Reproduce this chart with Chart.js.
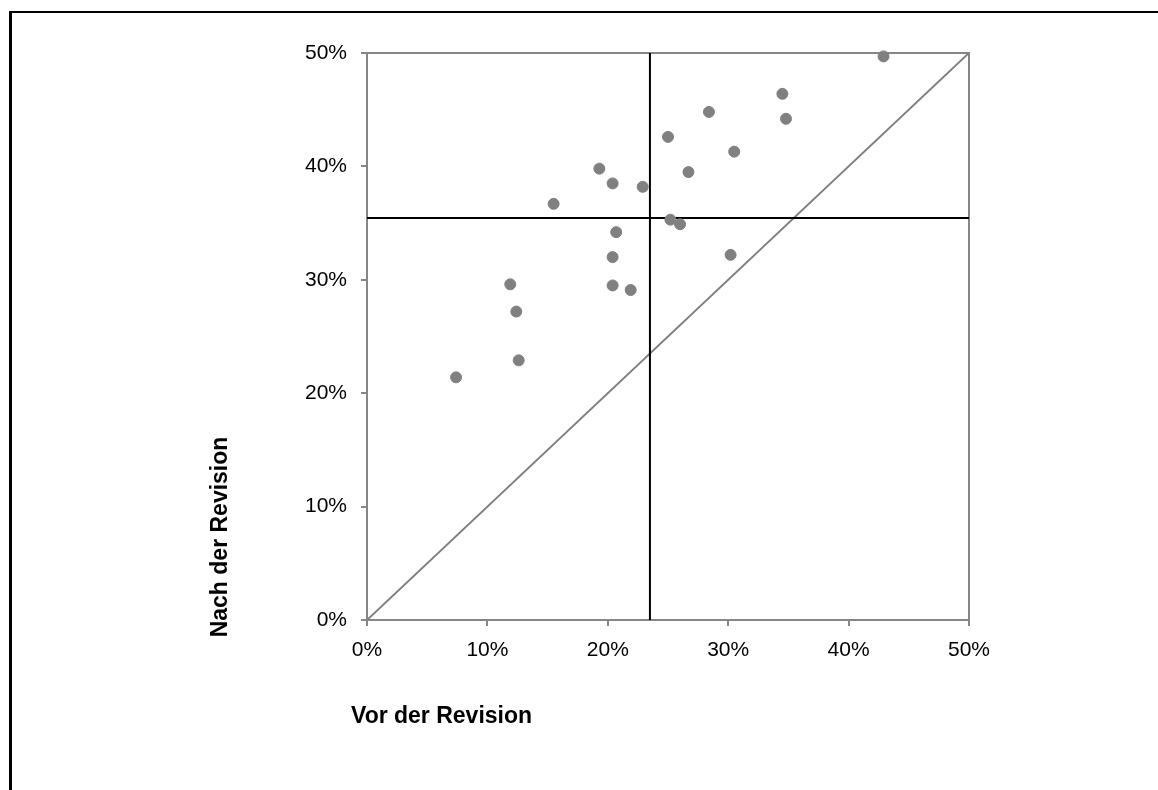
<!DOCTYPE html>
<html>
<head>
<meta charset="utf-8">
<script src="https://cdn.jsdelivr.net/npm/chart.js@4.4.1/dist/chart.umd.min.js"></script>
<style>
  html, body { margin: 0; padding: 0; background: #fff; }
  #wrap { position: relative; width: 1158px; height: 790px; }
  #frame { position: absolute; left: 9px; top: 11px; right: 0; bottom: 0;
           border-left: 3px solid #000; border-top: 2px solid #000; }
  canvas { position: absolute; left: 0; top: 0; }
</style>
</head>
<body>
<div id="wrap">
  <div id="frame"></div>
  <canvas id="chart" width="1158" height="790"></canvas>
</div>
<script>
// Data ------------------------------------------------------------

// share before the revision (x) and after it (y), in percent
const vorRevision  = [42.9, 34.5, 28.4, 34.8, 25.0, 30.5, 19.3, 26.7, 20.4, 22.9, 15.5,
                      25.2, 26.0, 20.7, 30.2, 20.4, 11.9, 20.4, 21.9, 12.4, 12.6, 7.4];
const nachRevision = [49.7, 46.4, 44.8, 44.2, 42.6, 41.3, 39.8, 39.5, 38.5, 38.2, 36.7,
                      35.3, 34.9, 34.2, 32.2, 32.0, 29.6, 29.5, 29.1, 27.2, 22.9, 21.4];

// average lines and the diagonal
const mittelVor  = 23.5;
const mittelNach = 35.45;
const achseMin = 0;
const achseMax = 50;
const tickStep = 10;

const punkte = vorRevision.map((v, i) => ({ x: v, y: nachRevision[i] }));

// draws the grey box round the plot area and the two axis titles
const rahmen = {
  id: 'rahmen',
  beforeDatasetsDraw(chart) {
    const { ctx, chartArea } = chart;
    ctx.save();
    ctx.strokeStyle = '#868686';
    ctx.lineWidth = 2;
    ctx.strokeRect(chartArea.left, chartArea.top, chartArea.right - chartArea.left, chartArea.bottom - chartArea.top);
    ctx.restore();
  },
  afterDraw(chart) {
    const { ctx, chartArea } = chart;
    ctx.save();
    ctx.fillStyle = '#000';
    ctx.font = 'bold 23px "Liberation Sans", Arial, sans-serif';
    ctx.textBaseline = 'middle';
    ctx.textAlign = 'left';
    ctx.fillText('Vor der Revision', chartArea.left - 16, chartArea.bottom + 97);
    ctx.translate(chartArea.left - 146, chartArea.bottom - 83);
    ctx.rotate(-Math.PI / 2);
    ctx.textAlign = 'center';
    ctx.fillText('Nach der Revision', 0, 0);
    ctx.restore();
  }
};

const achse = (fixGroesse, istY) => ({
  type: 'linear',
  min: achseMin,
  max: achseMax,
  border: { display: false },
  grid: { drawOnChartArea: false, drawTicks: true, tickLength: 6, color: '#868686', lineWidth: 2 },
  ticks: {
    stepSize: tickStep,
    padding: istY ? 14 : 12,
    color: '#000',
    font: { family: '"Liberation Sans", Arial, sans-serif', size: 21 },
    callback: (v) => v + '%'
  },
  afterFit(scale) {
    if (istY) { scale.width = fixGroesse; } else { scale.height = fixGroesse; }
  }
});

const config = {
  type: 'scatter',
  data: {
    datasets: [
      {
        label: 'Werte',
        data: punkte,
        backgroundColor: '#808080',
        borderColor: '#808080',
        pointRadius: 5.5,
        pointHoverRadius: 5.5,
        clip: false,
        order: 0
      },
      {
        type: 'line',
        label: 'Diagonale',
        data: [{ x: achseMin, y: achseMin }, { x: achseMax, y: achseMax }],
        borderColor: '#7f7f7f',
        borderWidth: 2,
        pointRadius: 0,
        order: 3
      },
      {
        type: 'line',
        label: 'Mittel vor',
        data: [{ x: mittelVor, y: achseMin }, { x: mittelVor, y: achseMax }],
        borderColor: '#000',
        borderWidth: 2,
        pointRadius: 0,
        order: 2
      },
      {
        type: 'line',
        label: 'Mittel nach',
        data: [{ x: achseMin, y: mittelNach }, { x: achseMax, y: mittelNach }],
        borderColor: '#000',
        borderWidth: 2,
        pointRadius: 0,
        order: 2
      }
    ]
  },
  options: {
    responsive: false,
    animation: false,
    layout: { padding: { left: 0, top: 53, right: 189, bottom: 0 } },
    plugins: { legend: { display: false }, tooltip: { enabled: false } },
    scales: {
      x: achse(170, false),
      y: achse(367, true)
    }
  },
  plugins: [rahmen]
};

new Chart(document.getElementById('chart'), config);
</script>
</body>
</html>
